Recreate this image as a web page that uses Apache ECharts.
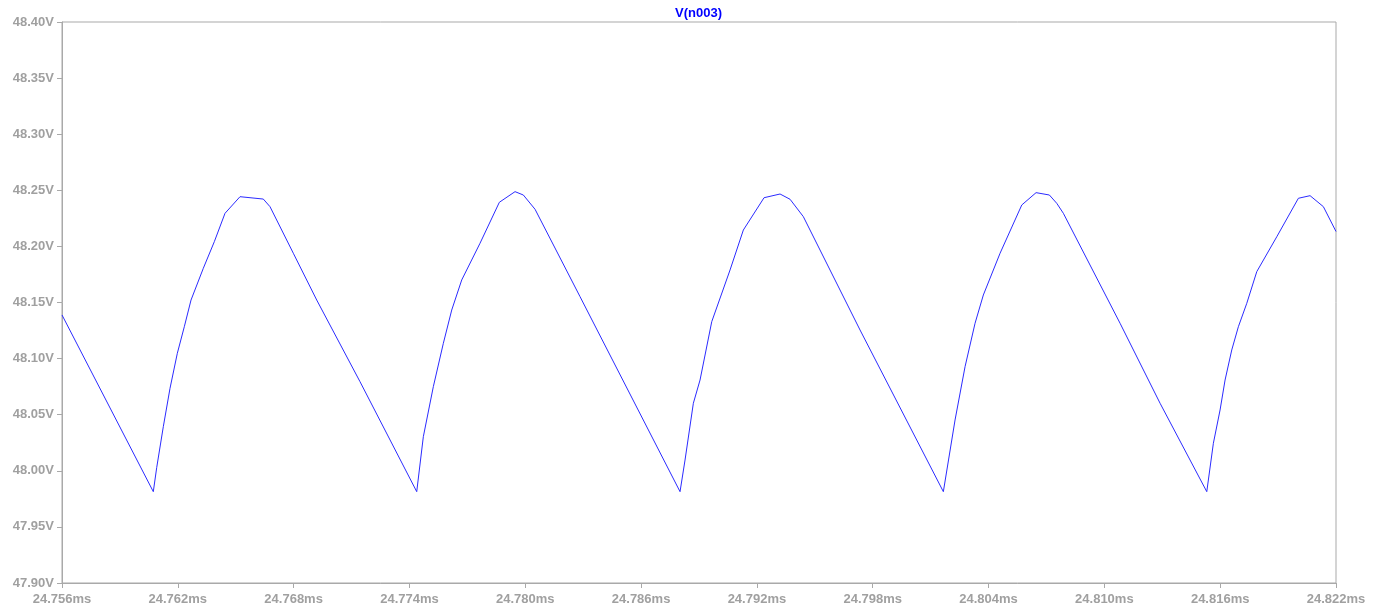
<!DOCTYPE html>
<html>
<head>
<meta charset="utf-8">
<script src="https://cdn.jsdelivr.net/npm/echarts@6/dist/echarts.min.js"></script>
<style>html,body{margin:0;padding:0;background:#fff}#c{width:1387px;height:611px}</style>
</head>
<body>
<div id="c"></div>
<script>
const seriesName = 'V(n003)';
const xTicks = { min: 24.756, max: 24.822, step: 0.006 };
const yTicks = { min: 47.90, max: 48.40, step: 0.05 };
// time in ms
const timeMs = [
  24.756000, 24.760730, 24.760906, 24.761248, 24.761595, 24.761974, 24.762336, 24.762684, 24.763321, 24.763891, 24.764445, 24.765222, 24.766429, 24.766776, 24.767984, 24.769196, 24.771439,
  24.774377, 24.774719, 24.775237, 24.775755, 24.776190, 24.776708, 24.777656, 24.778656, 24.779470, 24.779900, 24.780506, 24.782837,
  24.788018, 24.788277, 24.788707, 24.789054, 24.789660, 24.790609, 24.791298, 24.792370, 24.793199, 24.793717, 24.794406, 24.797343,
  24.801659, 24.802265, 24.802783, 24.803301, 24.803731, 24.804597, 24.805721, 24.806462, 24.807151, 24.807534, 24.807876, 24.810813, 24.812886,
  24.815305, 24.815647, 24.815994, 24.816253, 24.816600, 24.816942, 24.817378, 24.817896, 24.818932, 24.820051, 24.820657, 24.821346, 24.822000
];
// voltage in V
const voltage = [
  48.1389, 47.9814, 48.0028, 48.0393, 48.0735, 48.1047, 48.1284, 48.1522, 48.1805, 48.2042, 48.2295, 48.2443, 48.2422, 48.2354, 48.1939, 48.1522, 48.0794,
  47.9814, 48.0304, 48.0750, 48.1136, 48.1433, 48.1701, 48.2028, 48.2393, 48.2488, 48.2458, 48.2331, 48.1552,
  47.9814, 48.0096, 48.0602, 48.0809, 48.1329, 48.1790, 48.2146, 48.2434, 48.2467, 48.2420, 48.2265, 48.1255,
  47.9814, 48.0453, 48.0928, 48.1315, 48.1567, 48.1939, 48.2369, 48.2479, 48.2458, 48.2384, 48.2295, 48.1315, 48.0602,
  47.9814, 48.0245, 48.0542, 48.0809, 48.1077, 48.1284, 48.1493, 48.1775, 48.2086, 48.2429, 48.2452, 48.2354, 48.2133
];

const pts = timeMs.map((t, i) => [t, voltage[i]]);
const gray = '#a9a9a9';
const labelFont = { color: '#a0a0a0', fontFamily: 'Liberation Sans, Arial, sans-serif', fontWeight: 'bold', fontSize: 13 };

const chart = echarts.init(document.getElementById('c'), null, { renderer: 'canvas' });
chart.setOption({
  animation: false,
  backgroundColor: '#ffffff',
  title: {
    text: seriesName,
    left: 670, top: 2,
    textStyle: { color: '#0000ff', fontFamily: 'Liberation Sans, Arial, sans-serif', fontWeight: 'bold', fontSize: 13 }
  },
  grid: { left: 62, right: 51, top: 22, bottom: 28, show: true, borderColor: gray, borderWidth: 1, backgroundColor: 'transparent' },
  xAxis: {
    type: 'value', min: xTicks.min, max: xTicks.max, interval: xTicks.step,
    axisLine: { show: true, lineStyle: { color: gray } },
    axisTick: { show: true, length: 5, lineStyle: { color: gray } },
    splitLine: { show: false },
    axisLabel: Object.assign({ margin: 10, formatter: v => v.toFixed(3) + 'ms', showMinLabel: true, showMaxLabel: true, hideOverlap: false }, labelFont)
  },
  yAxis: {
    type: 'value', min: yTicks.min, max: yTicks.max, interval: yTicks.step,
    axisLine: { show: true, lineStyle: { color: gray } },
    axisTick: { show: true, length: 5, lineStyle: { color: gray } },
    splitLine: { show: false },
    axisLabel: Object.assign({ margin: 8, formatter: v => v.toFixed(2) + 'V', showMinLabel: true, showMaxLabel: true }, labelFont)
  },
  series: [{
    name: seriesName, type: 'line', data: pts, showSymbol: false, symbol: 'none',
    lineStyle: { color: '#2b2bff', width: 1 }, clip: true
  }]
});
</script>
</body>
</html>
